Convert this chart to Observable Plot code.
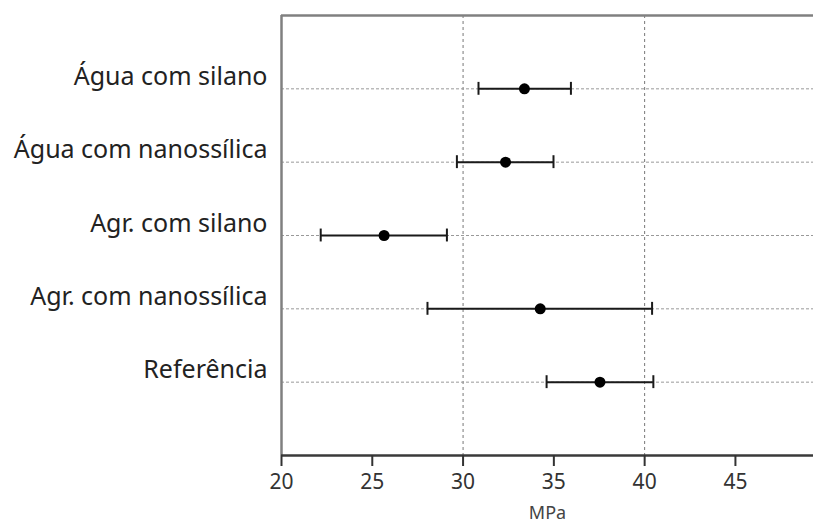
<!DOCTYPE html>
<html>
<head>
<meta charset="utf-8">
<script src="https://cdn.jsdelivr.net/npm/d3@7"></script>
<script src="https://cdn.jsdelivr.net/npm/@observablehq/plot@0.6"></script>
<style>
  html, body { margin: 0; padding: 0; background: #fff; }
  #chart svg { display: block; }
</style>
</head>
<body>
<div id="chart"></div>
<script>
const categories = ["Água com silano", "Água com nanossílica", "Agr. com silano", "Agr. com nanossílica", "Referência"];
const means = [33.38, 32.34, 25.65, 34.25, 37.54];
const lows  = [30.85, 29.66, 22.16, 28.04, 34.60];
const highs = [35.94, 34.98, 29.11, 40.41, 40.48];
const xTicks = [20, 25, 30, 35, 40, 45];
const xGrid = [30, 40];
const xLabel = "MPa";

const n = categories.length;
const data = categories.map((c, i) => ({cat: c, pos: n - i, mean: means[i], low: lows[i], high: highs[i]}));
const posTicks = data.map(d => d.pos);
const capHalf = 0.088;
const font = "'Noto Sans', 'Open Sans', sans-serif";

const chart = Plot.plot({
  width: 813,
  height: 528,
  marginLeft: 281,
  marginRight: 0,
  marginTop: 15,
  marginBottom: 73,
  style: {fontFamily: font, background: "#fff", color: "#333"},
  x: {domain: [20, 49.3]},
  y: {domain: [0, n + 1]},
  marks: [
    Plot.ruleX(xGrid, {stroke: "#777", strokeDasharray: "3,3", strokeWidth: 1}),
    Plot.ruleY(data, {y: "pos", stroke: "#999", strokeDasharray: "3,2", strokeWidth: 1}),
    Plot.ruleY([n + 1], {stroke: "#808080", strokeWidth: 2.5}),
    Plot.ruleX([20], {stroke: "#808080", strokeWidth: 2.5}),
    Plot.ruleY([0], {stroke: "#3a3a3a", strokeWidth: 2.5}),
    Plot.ruleY(data, {y: "pos", x1: "low", x2: "high", stroke: "#1a1a1a", strokeWidth: 2}),
    Plot.ruleX(data, {x: "low", y1: d => d.pos - capHalf, y2: d => d.pos + capHalf, stroke: "#1a1a1a", strokeWidth: 2}),
    Plot.ruleX(data, {x: "high", y1: d => d.pos - capHalf, y2: d => d.pos + capHalf, stroke: "#1a1a1a", strokeWidth: 2}),
    Plot.dot(data, {x: "mean", y: "pos", r: 5.5, fill: "#000", stroke: "none"}),
    Plot.axisX({ticks: xTicks, tickSize: 11, tickPadding: 8, fontSize: 21, label: null, stroke: "#333", strokeWidth: 2, fill: "#333"}),
    Plot.axisY({ticks: posTicks, tickFormat: p => categories[n - p], tickSize: 0, tickPadding: 14, fontSize: 25, dy: -12, label: null, fill: "#222"}),
    Plot.text([xLabel], {text: d => d, frameAnchor: "bottom", dy: 63, fontSize: 18, fill: "#444"})
  ]
});
document.getElementById("chart").appendChild(chart);
</script>
</body>
</html>
